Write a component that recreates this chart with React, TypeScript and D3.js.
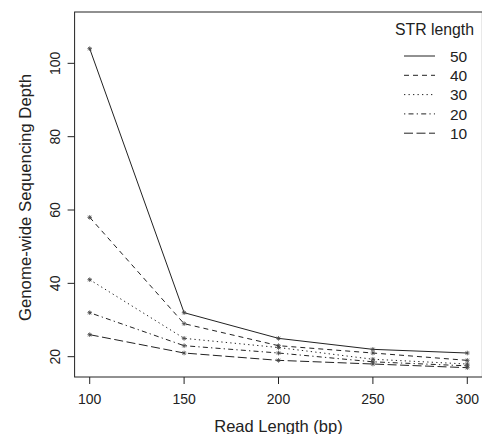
import React from "react";
import * as d3 from "d3";

const readLengths = [100, 150, 200, 250, 300];
const strLengths = [50, 40, 30, 20, 10];
const depth50 = [104, 32, 25, 22, 21];
const depth40 = [58, 29, 23, 21, 19];
const depth30 = [41, 25, 22.5, 19.3, 18];
const depth20 = [32, 23, 21, 18.6, 17.5];
const depth10 = [26, 21, 19, 18, 17];
const xTicks = [100, 150, 200, 250, 300];
const yTicks = [20, 40, 60, 80, 100];

const seriesValues = [depth50, depth40, depth30, depth20, depth10];
const dashes = ["none", "5,4", "1.3,3.2", "1.3,3.2,5,3.2", "9,3.5"];

const W = 482;
const H = 434;

export default function App() {
  const x = d3.scaleLinear().domain([92, 308]).range([74.6, 482.4]);
  const y = d3.scaleLinear().domain([14.46, 114.0]).range([377, 12]);
  const line = d3
    .line<number>()
    .x((_, i) => x(readLengths[i]))
    .y((d) => y(d));
  const font = "'Liberation Sans', Arial, sans-serif";
  const ink = "#222";

  const star = (cx: number, cy: number, key: string) => {
    const r = 2.3;
    const s = r * 0.72;
    return (
      <g key={key} stroke="#444" strokeWidth={0.8}>
        <line x1={cx - r} y1={cy} x2={cx + r} y2={cy} />
        <line x1={cx} y1={cy - r} x2={cx} y2={cy + r} />
        <line x1={cx - s} y1={cy - s} x2={cx + s} y2={cy + s} />
        <line x1={cx - s} y1={cy + s} x2={cx + s} y2={cy - s} />
      </g>
    );
  };

  const [x0, x1] = x.range();
  const [y0, y1] = y.range();

  return (
    <svg
      width={W}
      height={H}
      style={{ position: "absolute", left: 0, top: 0, background: "#fff" }}
      fontFamily={font}
    >
      <rect x={0} y={0} width={W} height={H} fill="#fff" />
      {/* plot box */}
      <rect
        x={x0}
        y={y1}
        width={x1 - x0}
        height={y0 - y1}
        fill="none"
        stroke={ink}
        strokeWidth={1}
      />
      {/* x axis */}
      {xTicks.map((t) => (
        <g key={"xt" + t}>
          <line x1={x(t)} x2={x(t)} y1={y0} y2={y0 + 7} stroke={ink} />
          <text x={x(t)} y={403.5} textAnchor="middle" fontSize={14} fill={ink}>
            {t}
          </text>
        </g>
      ))}
      <text x={(x(100) + x(300)) / 2} y={431.5} textAnchor="middle" fontSize={16.5} fill={ink}>
        Read Length (bp)
      </text>
      {/* y axis */}
      {yTicks.map((t) => (
        <g key={"yt" + t}>
          <line x1={x0 - 7} x2={x0} y1={y(t)} y2={y(t)} stroke={ink} />
          <text
            transform={`translate(59.5,${y(t)}) rotate(-90)`}
            textAnchor="middle"
            fontSize={14}
            fill={ink}
          >
            {t}
          </text>
        </g>
      ))}
      <text
        transform={`translate(31,${197.5}) rotate(-90)`}
        textAnchor="middle"
        fontSize={16.8}
        fill={ink}
      >
        Genome-wide Sequencing Depth
      </text>
      {/* series */}
      {seriesValues.map((vals, si) => (
        <g key={"s" + si}>
          <path
            d={line(vals) || ""}
            fill="none"
            stroke={ink}
            strokeWidth={1}
            strokeDasharray={dashes[si]}
          />
          {vals.map((v, i) => star(x(readLengths[i]), y(v), `p${si}-${i}`))}
        </g>
      ))}
      {/* legend */}
      <text x={474} y={35} textAnchor="end" fontSize={15.8} fill={ink}>
        STR length
      </text>
      {strLengths.map((s, i) => {
        const ly = 56 + i * 19.3;
        return (
          <g key={"lg" + s}>
            <line
              x1={404}
              x2={435}
              y1={ly}
              y2={ly}
              stroke={ink}
              strokeWidth={1}
              strokeDasharray={dashes[i]}
            />
            <text x={450} y={ly + 5.6} fontSize={15.5} fill={ink}>
              {s}
            </text>
          </g>
        );
      })}
    </svg>
  );
}
